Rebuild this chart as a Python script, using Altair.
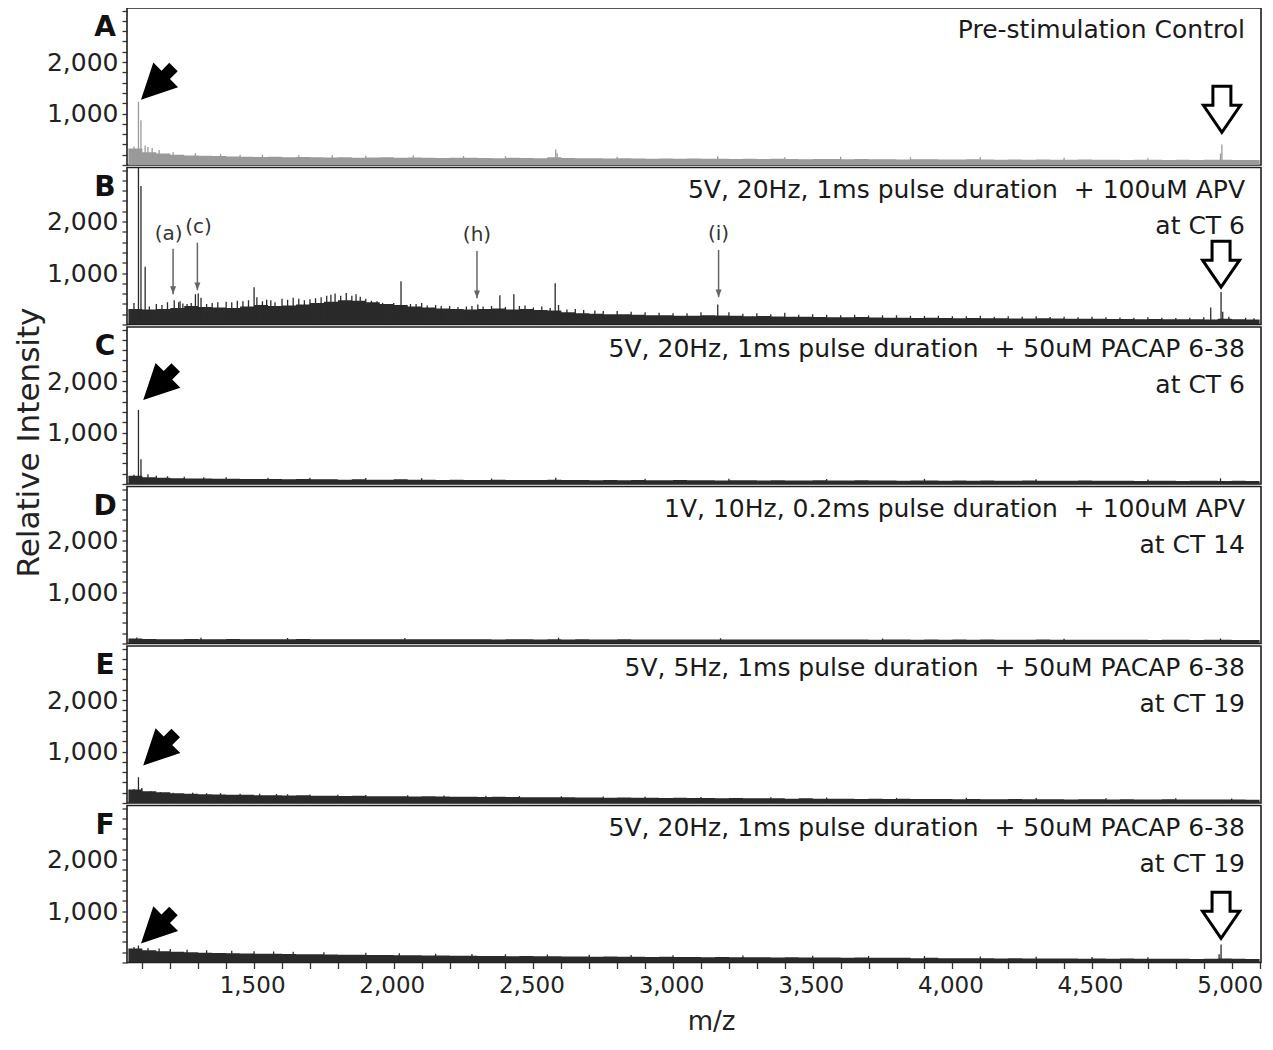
import altair as alt
import pandas as pd

X_MIN, X_MAX = 1045, 5105
Y_MAX = 3050
W, H = 1134, 157
FONT = "DejaVu Sans"

# m/z sampling grid for baselines (every 50)
GRID = list(range(1050, 5101, 50))

# ---------- baselines (intensity at each grid m/z) ----------
A_BASE = [320, 250, 225, 200, 185, 180, 175, 165, 160, 155,
          160, 150, 155, 150, 145, 150, 140, 145, 150, 140,
          145, 140, 135, 140, 140, 135, 130, 140, 135, 130,
          150, 135, 130, 130, 125, 130, 125, 120, 125, 120,
          125, 120, 120, 115, 120, 115, 120, 115, 110, 115,
          115, 110, 115, 110, 110, 105, 110, 110, 105, 105,
          110, 105, 100, 105, 100, 105, 100, 100, 105, 100,
          100, 95, 100, 100, 95, 100, 95, 100, 100, 95,
          95, 90]
B_BASE = [300, 290, 300, 320, 360, 340, 330, 320, 350, 380,
          360, 370, 390, 420, 440, 470, 460, 430, 400, 380,
          350, 330, 310, 300, 290, 300, 310, 290, 300, 280,
          270, 240, 220, 210, 200, 200, 190, 180, 180, 170,
          170, 180, 175, 170, 160, 165, 155, 150, 150, 145,
          140, 140, 145, 135, 130, 130, 125, 130, 125, 120,
          125, 120, 120, 115, 115, 120, 115, 110, 110, 110,
          105, 105, 100, 105, 100, 100, 100, 95, 110, 100,
          95, 95]
C_BASE = [160, 130, 120, 110, 105, 105, 100, 100, 95, 95,
          95, 90, 95, 90, 90, 85, 90, 85, 85, 90,
          85, 85, 80, 85, 80, 80, 85, 80, 80, 80,
          85, 80, 80, 75, 80, 75, 80, 75, 75, 80,
          75, 75, 70, 75, 75, 70, 75, 70, 70, 75,
          70, 70, 75, 70, 70, 65, 70, 70, 65, 70,
          65, 70, 65, 65, 70, 65, 65, 65, 70, 65,
          65, 65, 60, 65, 65, 60, 65, 65, 60, 65,
          60, 60]
D_BASE = [95, 88, 85, 84, 88, 85, 84, 88, 85, 84,
          85, 84, 88, 85, 82, 85, 84, 85, 82, 84,
          84, 82, 85, 82, 84, 82, 80, 84, 82, 80,
          82, 80, 82, 80, 78, 82, 80, 78, 80, 78,
          80, 78, 76, 80, 78, 76, 78, 76, 78, 76,
          76, 78, 76, 74, 76, 78, 74, 76, 74, 76,
          74, 76, 74, 72, 74, 76, 72, 74, 72, 74,
          72, 74, 72, 70, 74, 72, 70, 72, 74, 70,
          70, 70]
E_BASE = [260, 230, 210, 190, 180, 170, 165, 160, 160, 150,
          150, 145, 150, 140, 140, 135, 140, 130, 130, 130,
          125, 130, 125, 120, 120, 115, 120, 115, 110, 110,
          110, 110, 105, 105, 100, 105, 100, 100, 95, 100,
          95, 95, 90, 95, 90, 90, 90, 85, 90, 85,
          85, 85, 80, 85, 80, 85, 80, 80, 80, 75,
          80, 75, 75, 80, 75, 75, 75, 70, 75, 75,
          70, 75, 70, 70, 75, 70, 70, 70, 70, 70,
          65, 65]
F_BASE = [270, 240, 220, 210, 200, 190, 185, 180, 175, 170,
          170, 165, 160, 160, 155, 150, 150, 145, 145, 140,
          140, 135, 135, 130, 130, 125, 125, 120, 125, 120,
          120, 115, 115, 110, 115, 110, 110, 105, 110, 105,
          105, 100, 105, 100, 100, 100, 95, 100, 95, 95,
          95, 90, 95, 90, 90, 90, 85, 90, 85, 85,
          85, 85, 80, 85, 80, 80, 80, 80, 75, 80,
          75, 80, 75, 75, 75, 75, 70, 75, 80, 75,
          70, 70]

# ---------- individual peaks (m/z, intensity) ----------
A_PEAK_MZ = [1070, 1086, 1095, 1110, 1120, 1135, 1160, 1210, 1290, 1380, 1450, 1530, 1660, 1780, 1900,
             2070, 2250, 2400, 2580, 2585, 2800, 3160, 3400, 3600, 3850, 4100, 4400, 4700, 4960, 4965]
A_PEAK_I = [360, 1230, 870, 380, 350, 330, 290, 250, 230, 210, 200, 200, 190, 190, 180,
            185, 175, 170, 300, 230, 160, 170, 150, 160, 150, 150, 140, 130, 220, 400]
B_PEAK_MZ = [1070, 1086, 1095, 1110, 1125, 1150, 1170, 1190, 1214, 1230, 1235, 1245, 1260, 1275, 1290,
             1300, 1310, 1330, 1350, 1370, 1400, 1420, 1440, 1460, 1480, 1500, 1510, 1530, 1545, 1560,
             1575, 1600, 1620, 1640, 1660, 1680, 1700, 1720, 1740, 1760, 1775, 1790, 1810, 1830, 1850,
             1865, 1880, 1900, 1920, 1940, 1960, 1980, 2000, 2026, 2040, 2060, 2080, 2100, 2120, 2150,
             2170, 2200, 2230, 2260, 2280, 2301, 2320, 2350, 2380, 2400, 2430, 2450, 2470, 2500, 2530,
             2560, 2578, 2590, 2620, 2650, 2680, 2720, 2750, 2800, 2850, 2900, 2950, 3000, 3050, 3100,
             3160, 3200, 3250, 3300, 3350, 3400, 3450, 3500, 3550, 3600, 3650, 3700, 3750, 3800, 3850,
             3900, 3950, 4000, 4050, 4100, 4150, 4200, 4250, 4300, 4350, 4400, 4450, 4500, 4550, 4600,
             4650, 4700, 4750, 4800, 4850, 4900, 4925, 4962, 4968, 4990, 5050, 5080]
B_PEAK_I = [420, 3200, 2690, 1120, 350, 400, 380, 430, 470, 430, 450, 410, 400, 420, 590,
            600, 520, 400, 420, 430, 440, 430, 460, 450, 470, 725, 530, 450, 480, 470,
            430, 500, 480, 520, 500, 470, 490, 510, 530, 560, 580, 600, 560, 610, 560,
            590, 540, 500, 460, 450, 420, 400, 420, 840, 380, 400, 400, 420, 370, 380,
            360, 360, 340, 350, 360, 390, 350, 360, 570, 340, 590, 360, 370, 330, 350,
            320, 800, 380, 290, 300, 280, 270, 260, 260, 250, 240, 230, 220, 220, 240,
            390, 240, 210, 220, 200, 230, 190, 200, 190, 180, 190, 175, 180, 180, 170,
            165, 170, 160, 160, 170, 150, 160, 150, 160, 145, 150, 140, 150, 140, 135,
            130, 140, 130, 125, 130, 140, 330, 630, 250, 150, 130, 120]
C_PEAK_MZ = [1070, 1086, 1095, 1120, 1150, 1190, 1250, 1320, 1400, 1550, 1700, 1900, 2100, 2350, 2580,
             2900, 3200, 3550, 3900, 4300, 4700, 4960]
C_PEAK_I = [180, 1440, 480, 190, 160, 150, 140, 130, 130, 120, 120, 115, 110, 105, 120,
            100, 100, 95, 100, 90, 85, 110]
D_PEAK_MZ = [1080, 1310, 1620, 2040, 2590, 3170, 3750, 4400, 4960]
D_PEAK_I = [115, 110, 105, 105, 110, 100, 95, 90, 95]
E_PEAK_MZ = [1070, 1086, 1098, 1130, 1165, 1210, 1280, 1330, 1380, 1450, 1520, 1580, 1620, 1700, 1800,
             1900, 2050, 2180, 2330, 2450, 2600, 2750, 2900, 3100, 3350, 3550, 3800, 4050, 4300, 4550, 4800, 5000]
E_PEAK_I = [270, 500, 290, 230, 210, 200, 200, 190, 190, 180, 180, 175, 170, 165, 160,
            155, 150, 145, 140, 135, 130, 125, 120, 115, 110, 105, 100, 100, 95, 90, 90, 85]
F_PEAK_MZ = [1070, 1086, 1120, 1160, 1200, 1260, 1330, 1420, 1500, 1570, 1640, 1750, 1900, 2020, 2150,
             2280, 2400, 2550, 2700, 2850, 3000, 3250, 3500, 3700, 3900, 4100, 4300, 4500, 4700, 4955, 4962]
F_PEAK_I = [300, 330, 280, 270, 260, 250, 240, 230, 220, 215, 210, 200, 190, 180, 170,
            165, 160, 155, 150, 145, 140, 135, 130, 125, 125, 115, 110, 105, 100, 160, 350]

# ---------- arrows (tip position in data units) ----------
SOLID_ARROW = {"A": (1095, 1270), "C": (1103, 1630), "E": (1103, 730), "F": (1095, 370)}
OPEN_ARROW = {"A": (4965, 634), "B": (4962, 725), "F": (4962, 470)}

# labelled markers in panel B
B_MARK_LABELS = ["(a)", "(c)", "(h)", "(i)"]
B_MARK_MZ = [1210, 1297, 2298, 3163]
B_MARK_TOP = [1470, 1590, 1430, 1450]
B_MARK_TIP = [590, 665, 510, 530]
B_LABEL_MZ = [1194, 1301, 2298, 3163]
B_LABEL_I = [1765, 1900, 1745, 1765]

PANELS = [
    ("A", ["Pre-stimulation Control"], A_BASE, A_PEAK_MZ, A_PEAK_I, "#9a9a9a"),
    ("B", ["5V, 20Hz, 1ms pulse duration\u00a0 + 100uM APV", "at CT 6"], B_BASE, B_PEAK_MZ, B_PEAK_I, "#2a2a2a"),
    ("C", ["5V, 20Hz, 1ms pulse duration\u00a0 + 50uM PACAP 6-38", "at CT 6"], C_BASE, C_PEAK_MZ, C_PEAK_I, "#2a2a2a"),
    ("D", ["1V, 10Hz, 0.2ms pulse duration\u00a0 + 100uM APV", "at CT 14"], D_BASE, D_PEAK_MZ, D_PEAK_I, "#2a2a2a"),
    ("E", ["5V, 5Hz, 1ms pulse duration\u00a0 + 50uM PACAP 6-38", "at CT 19"], E_BASE, E_PEAK_MZ, E_PEAK_I, "#2a2a2a"),
    ("F", ["5V, 20Hz, 1ms pulse duration\u00a0 + 50uM PACAP 6-38", "at CT 19"], F_BASE, F_PEAK_MZ, F_PEAK_I, "#2a2a2a"),
]

SOLID_PATH = "M0,0L-1.75,-3.5L-0.6,-3.5L-0.6,-4.6L0.6,-4.6L0.6,-3.5L1.75,-3.5Z"
OPEN_PATH = "M0,0L-1.85,-2.7L-0.9,-2.7L-0.9,-4.6L0.9,-4.6L0.9,-2.7L1.85,-2.7Z"
HEAD_PATH = "M0,0L-1,-2.6L1,-2.6Z"

xscale = alt.Scale(domain=[X_MIN, X_MAX], nice=False, zero=False)
yscale = alt.Scale(domain=[0, Y_MAX], nice=False)

X_LABEL_TEST = "datum.value % 500 == 0"
Y_LABEL_TEST = "datum.value == 1000 || datum.value == 2000"


def x_axis(bottom):
    if not bottom:
        return None
    return alt.Axis(
        values=list(range(1100, 5101, 100)),
        labelExpr=f"{X_LABEL_TEST} ? format(datum.value, ',') : ''",
        labelFontSize={"condition": {"test": X_LABEL_TEST, "value": 23}, "value": 0},
        labelOverlap=False, labelFlush=False, grid=False, domain=False,
        tickSize=6, tickColor="#333", tickWidth=1.3, labelPadding=6, labelOffset=-2,
        labelFont=FONT, labelColor="#222",
        title="m/z", titleFont=FONT, titleFontSize=26, titleFontWeight="normal",
        titleColor="#222", titleX=584, titleY=67, titleBaseline="alphabetic",
        titleAlign="center",
    )


def y_axis(with_title):
    kw = dict(
        values=list(range(0, 3001, 200)),
        labelExpr=f"{Y_LABEL_TEST} ? format(datum.value, ',') : ''",
        labelFontSize={"condition": {"test": Y_LABEL_TEST, "value": 25}, "value": 0},
        labelOverlap=False, labelFlush=False, grid=False, domain=False,
        tickSize=5, tickColor="#333", tickWidth=1.3, labelPadding=4,
        labelFont=FONT, labelColor="#222",
    )
    if with_title:
        kw.update(title="Relative Intensity", titleFont=FONT, titleFontSize=31,
                  titleFontWeight="normal", titleColor="#222", titleX=-98, titleY=115,
                  titleAngle=270, titleAlign="center", titleBaseline="middle")
    else:
        kw.update(title=None)
    return alt.Axis(**kw)


panels = []
for i, (letter, lines, base, pk_mz, pk_i, color) in enumerate(PANELS):
    bottom = (i == len(PANELS) - 1)
    X = alt.X("mz:Q", scale=xscale, axis=x_axis(bottom))
    Y = alt.Y("val:Q", scale=yscale, axis=y_axis(letter == "C"))

    base_df = pd.DataFrame({"mz": GRID, "val": base})
    area = alt.Chart(base_df).mark_area(
        interpolate="step-after", color=color, clip=True, opacity=1
    ).encode(x=X, y=Y)

    pk_df = pd.DataFrame({"mz": pk_mz, "val": pk_i, "val2": [0] * len(pk_mz)})
    spikes = alt.Chart(pk_df).mark_rule(color=color, strokeWidth=1.3, clip=True).encode(
        x=X, y=Y, y2=alt.Y2("val2:Q"))

    layers = [area, spikes]

    if letter in SOLID_ARROW:
        mz, v = SOLID_ARROW[letter]
        layers.append(
            alt.Chart(pd.DataFrame({"mz": [mz], "val": [v]})).mark_point(
                shape=SOLID_PATH, size=400, filled=True, color="#000", opacity=1,
                angle=45, strokeWidth=0).encode(x=X, y=Y))
    if letter in OPEN_ARROW:
        mz, v = OPEN_ARROW[letter]
        layers.append(
            alt.Chart(pd.DataFrame({"mz": [mz], "val": [v]})).mark_point(
                shape=OPEN_PATH, size=400, filled=True, fill="#fff", stroke="#000",
                strokeWidth=3, opacity=1, strokeJoin="miter").encode(x=X, y=Y))

    if letter == "B":
        mk_df = pd.DataFrame({"mz": B_MARK_MZ, "val": B_MARK_TOP, "val2": B_MARK_TIP})
        layers.append(alt.Chart(mk_df).mark_rule(color="#666", strokeWidth=1.5).encode(
            x=X, y=Y, y2=alt.Y2("val2:Q")))
        tip_df = pd.DataFrame({"mz": B_MARK_MZ, "val": B_MARK_TIP})
        layers.append(alt.Chart(tip_df).mark_point(
            shape=HEAD_PATH, size=36, filled=True, color="#666", opacity=1, strokeWidth=0
        ).encode(x=X, y=Y))
        lab_df = pd.DataFrame({"mz": B_LABEL_MZ, "val": B_LABEL_I, "lab": B_MARK_LABELS})
        layers.append(alt.Chart(lab_df).mark_text(
            font=FONT, fontSize=20, color="#333", baseline="middle", align="center"
        ).encode(x=X, y=Y, text="lab:N"))

    # panel letter
    layers.append(alt.Chart(pd.DataFrame({"t": [letter]})).mark_text(
        font=FONT, fontSize=28, fontWeight="bold", color="#111", align="center",
        baseline="alphabetic").encode(x=alt.value(-22), y=alt.value(28), text="t:N"))

    # condition text
    for j, line in enumerate(lines):
        layers.append(alt.Chart(pd.DataFrame({"t": [line]})).mark_text(
            font=FONT, fontSize=25, color="#1a1a1a", align="right",
            baseline="alphabetic").encode(
            x=alt.value(W - 16), y=alt.value(30 + 36 * j), text="t:N"))

    panels.append(alt.layer(*layers).properties(width=W, height=H))

chart = alt.vconcat(*panels, spacing=2.5, bounds="flush").properties(
    padding={"left": 4, "top": -1, "right": 0, "bottom": 0},
    background="white",
).configure_view(stroke="#1e1e1e", strokeWidth=1.6)

chart.save("out.html", embed_options={"renderer": "svg", "actions": False})
